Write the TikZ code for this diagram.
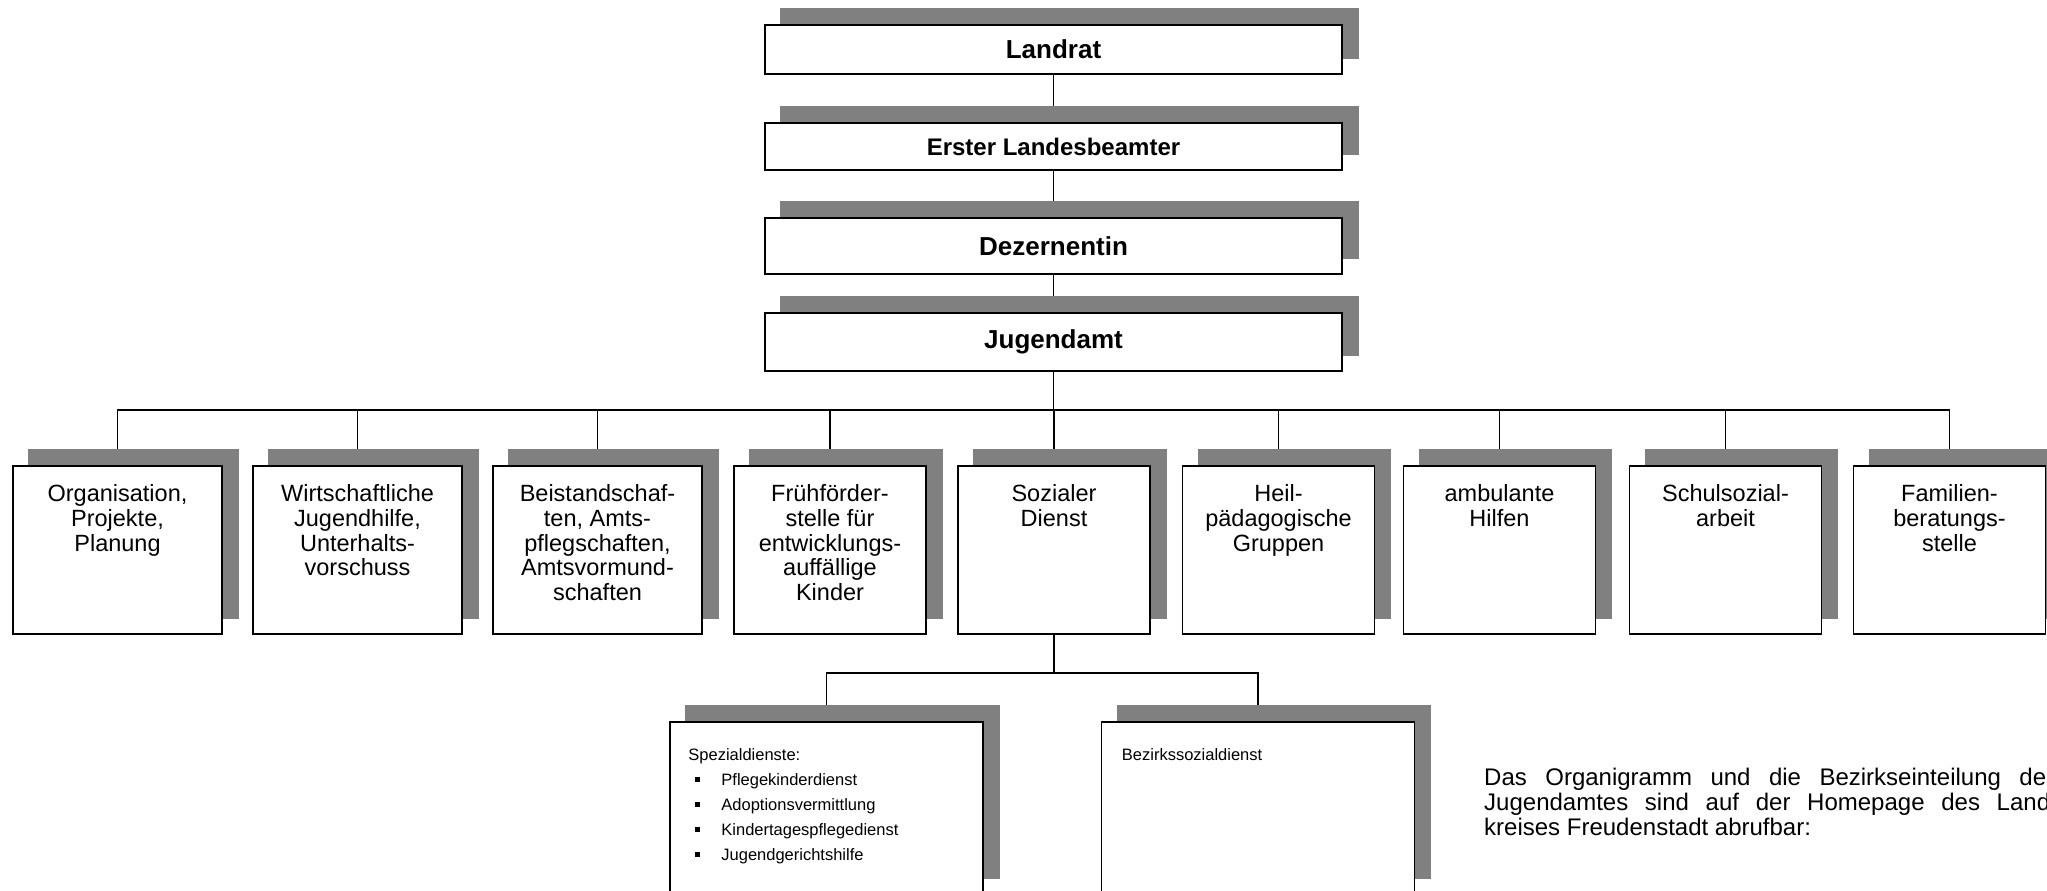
\documentclass[tikz,border=0pt]{standalone}
\usepackage{fontspec}
\setmainfont{Liberation Sans}
\definecolor{shadowgray}{HTML}{808080}
\pgfdeclarelayer{connlayer}
\pgfdeclarelayer{shadlayer}
\pgfsetlayers{connlayer,shadlayer,main}
\newcommand\shadowof[1]{\fill[shadowgray] ([shift={(16,-16)}]#1.south west) rectangle ([shift={(16,-16)}]#1.north east);}
\newcommand\sqbullet{\raisebox{3.5pt}{\rule{4.5pt}{4.5pt}}}
\tikzset{
  box/.style={draw=black, line width=1.6pt, fill=white, inner sep=0pt, rectangle},
  topbox/.style={box, minimum width=577pt, font=\bfseries\fontsize{26}{30}\selectfont},
  rowbox/.style={box, minimum height=168pt},
  widebox/.style={rowbox, minimum width=209pt},
  narrowbox/.style={rowbox, minimum width=192pt},
  subbox/.style={box, minimum width=313pt, minimum height=172pt},
  rowtext/.style={anchor=north, align=center, inner sep=0pt, font=\fontsize{23.5}{24.8}\selectfont},
  subtext/.style={anchor=north west, align=left, inner sep=0pt, font=\fontsize{16.5}{25}\selectfont},
  conn/.style={draw=black, line width=1.5pt},
}
\begin{document}
\begin{tikzpicture}[x=1pt,y=-1pt]
\useasboundingbox (0,0) rectangle (2047,891);
\begin{scope}
\clip (0,0) rectangle (2047,891);
% top chain
\node[topbox, minimum height=49pt] (landrat) at (1053.5,49.5) {Landrat};
\node[topbox, minimum height=47pt, font=\bfseries\fontsize{24}{28}\selectfont] (erster) at (1053.5,146.5) {Erster Landesbeamter};
\node[topbox, minimum height=56pt] (dez) at (1053.5,246) {Dezernentin};
\node[topbox, minimum height=58pt] (jug) at (1053.5,342) {Jugendamt};
% row
\node[widebox] (b1) at (117.5,550) {};
\node[widebox] (b2) at (357.5,550) {};
\node[widebox] (b3) at (597.5,550) {};
\node[narrowbox] (b4) at (830,550) {};
\node[narrowbox] (b5) at (1054,550) {};
\node[narrowbox] (b6) at (1278.5,550) {};
\node[narrowbox] (b7) at (1499.5,550) {};
\node[narrowbox] (b8) at (1725.5,550) {};
\node[narrowbox] (b9) at (1949.5,550) {};
\node[rowtext] (t1) at ([shift={(0,19)}]b1.north) {Organisation,\\Projekte,\\Planung};
\node[rowtext] (t2) at ([shift={(0,19)}]b2.north) {Wirtschaftliche\\Jugendhilfe,\\Unterhalts-\\vorschuss};
\node[rowtext] (t3) at ([shift={(0,19)}]b3.north) {Beistandschaf-\\ten, Amts-\\pflegschaften,\\Amtsvormund-\\schaften};
\node[rowtext] (t4) at ([shift={(0,19)}]b4.north) {Frühförder-\\stelle für\\entwicklungs-\\auffällige\\Kinder};
\node[rowtext] (t5) at ([shift={(0,19)}]b5.north) {Sozialer\\Dienst};
\node[rowtext] (t6) at ([shift={(0,19)}]b6.north) {Heil-\\pädagogische\\Gruppen};
\node[rowtext] (t7) at ([shift={(0,19)}]b7.north) {ambulante\\Hilfen};
\node[rowtext] (t8) at ([shift={(0,19)}]b8.north) {Schulsozial-\\arbeit};
\node[rowtext] (t9) at ([shift={(0,19)}]b9.north) {Familien-\\beratungs-\\stelle};
% sub boxes
\node[subbox] (s1) at (826.5,808) {};
\node[subbox] (s2) at (1258,808) {};
\node[subtext] (st1) at ([shift={(19,27)}]s1.north west) {Spezialdienste:\\
\hspace*{7pt}\makebox[26pt][l]{\sqbullet}Pflegekinderdienst\\
\hspace*{7pt}\makebox[26pt][l]{\sqbullet}Adoptionsvermittlung\\
\hspace*{7pt}\makebox[26pt][l]{\sqbullet}Kindertagespflegedienst\\
\hspace*{7pt}\makebox[26pt][l]{\sqbullet}Jugendgerichtshilfe};
\node[subtext] (st2) at ([shift={(21,27)}]s2.north west) {Bezirkssozialdienst};
% note (justified paragraph cut by the page edge)
\node[anchor=north west, align=left, inner sep=0pt, font=\fontsize{24}{24.8}\selectfont] (note) at (1484,768)
 {\makebox[574pt][s]{Das Organigramm und die Bezirkseinteilung des}\\
  \makebox[574pt][s]{Jugendamtes sind auf der Homepage des Land-}\\
  kreises Freudenstadt abrufbar:};
\end{scope}
% shadows
\begin{pgfonlayer}{shadlayer}
\begin{scope}
\clip (0,0) rectangle (2047,891);
\shadowof{landrat}\shadowof{erster}\shadowof{dez}\shadowof{jug}
\shadowof{b1}\shadowof{b2}\shadowof{b3}\shadowof{b4}\shadowof{b5}
\shadowof{b6}\shadowof{b7}\shadowof{b8}\shadowof{b9}
\shadowof{s1}\shadowof{s2}
\end{scope}
\end{pgfonlayer}
% connectors
\begin{pgfonlayer}{connlayer}
\coordinate (bus) at (1053.5,410);
\coordinate (subbus) at (1054,673);
\draw[conn] (landrat.south) -- (erster.north);
\draw[conn] (erster.south) -- (dez.north);
\draw[conn] (dez.south) -- (jug.north);
\draw[conn] (jug.south) -- (bus);
\foreach \b in {b1,b2,b3,b4,b5,b6,b7,b8,b9} {\draw[conn] (\b.north) |- (bus);}
\draw[conn] (b5.south) -- (subbus);
\draw[conn] (s1.north) |- (subbus);
\draw[conn] (s2.north) |- (subbus);
\end{pgfonlayer}
\end{tikzpicture}
\end{document}
